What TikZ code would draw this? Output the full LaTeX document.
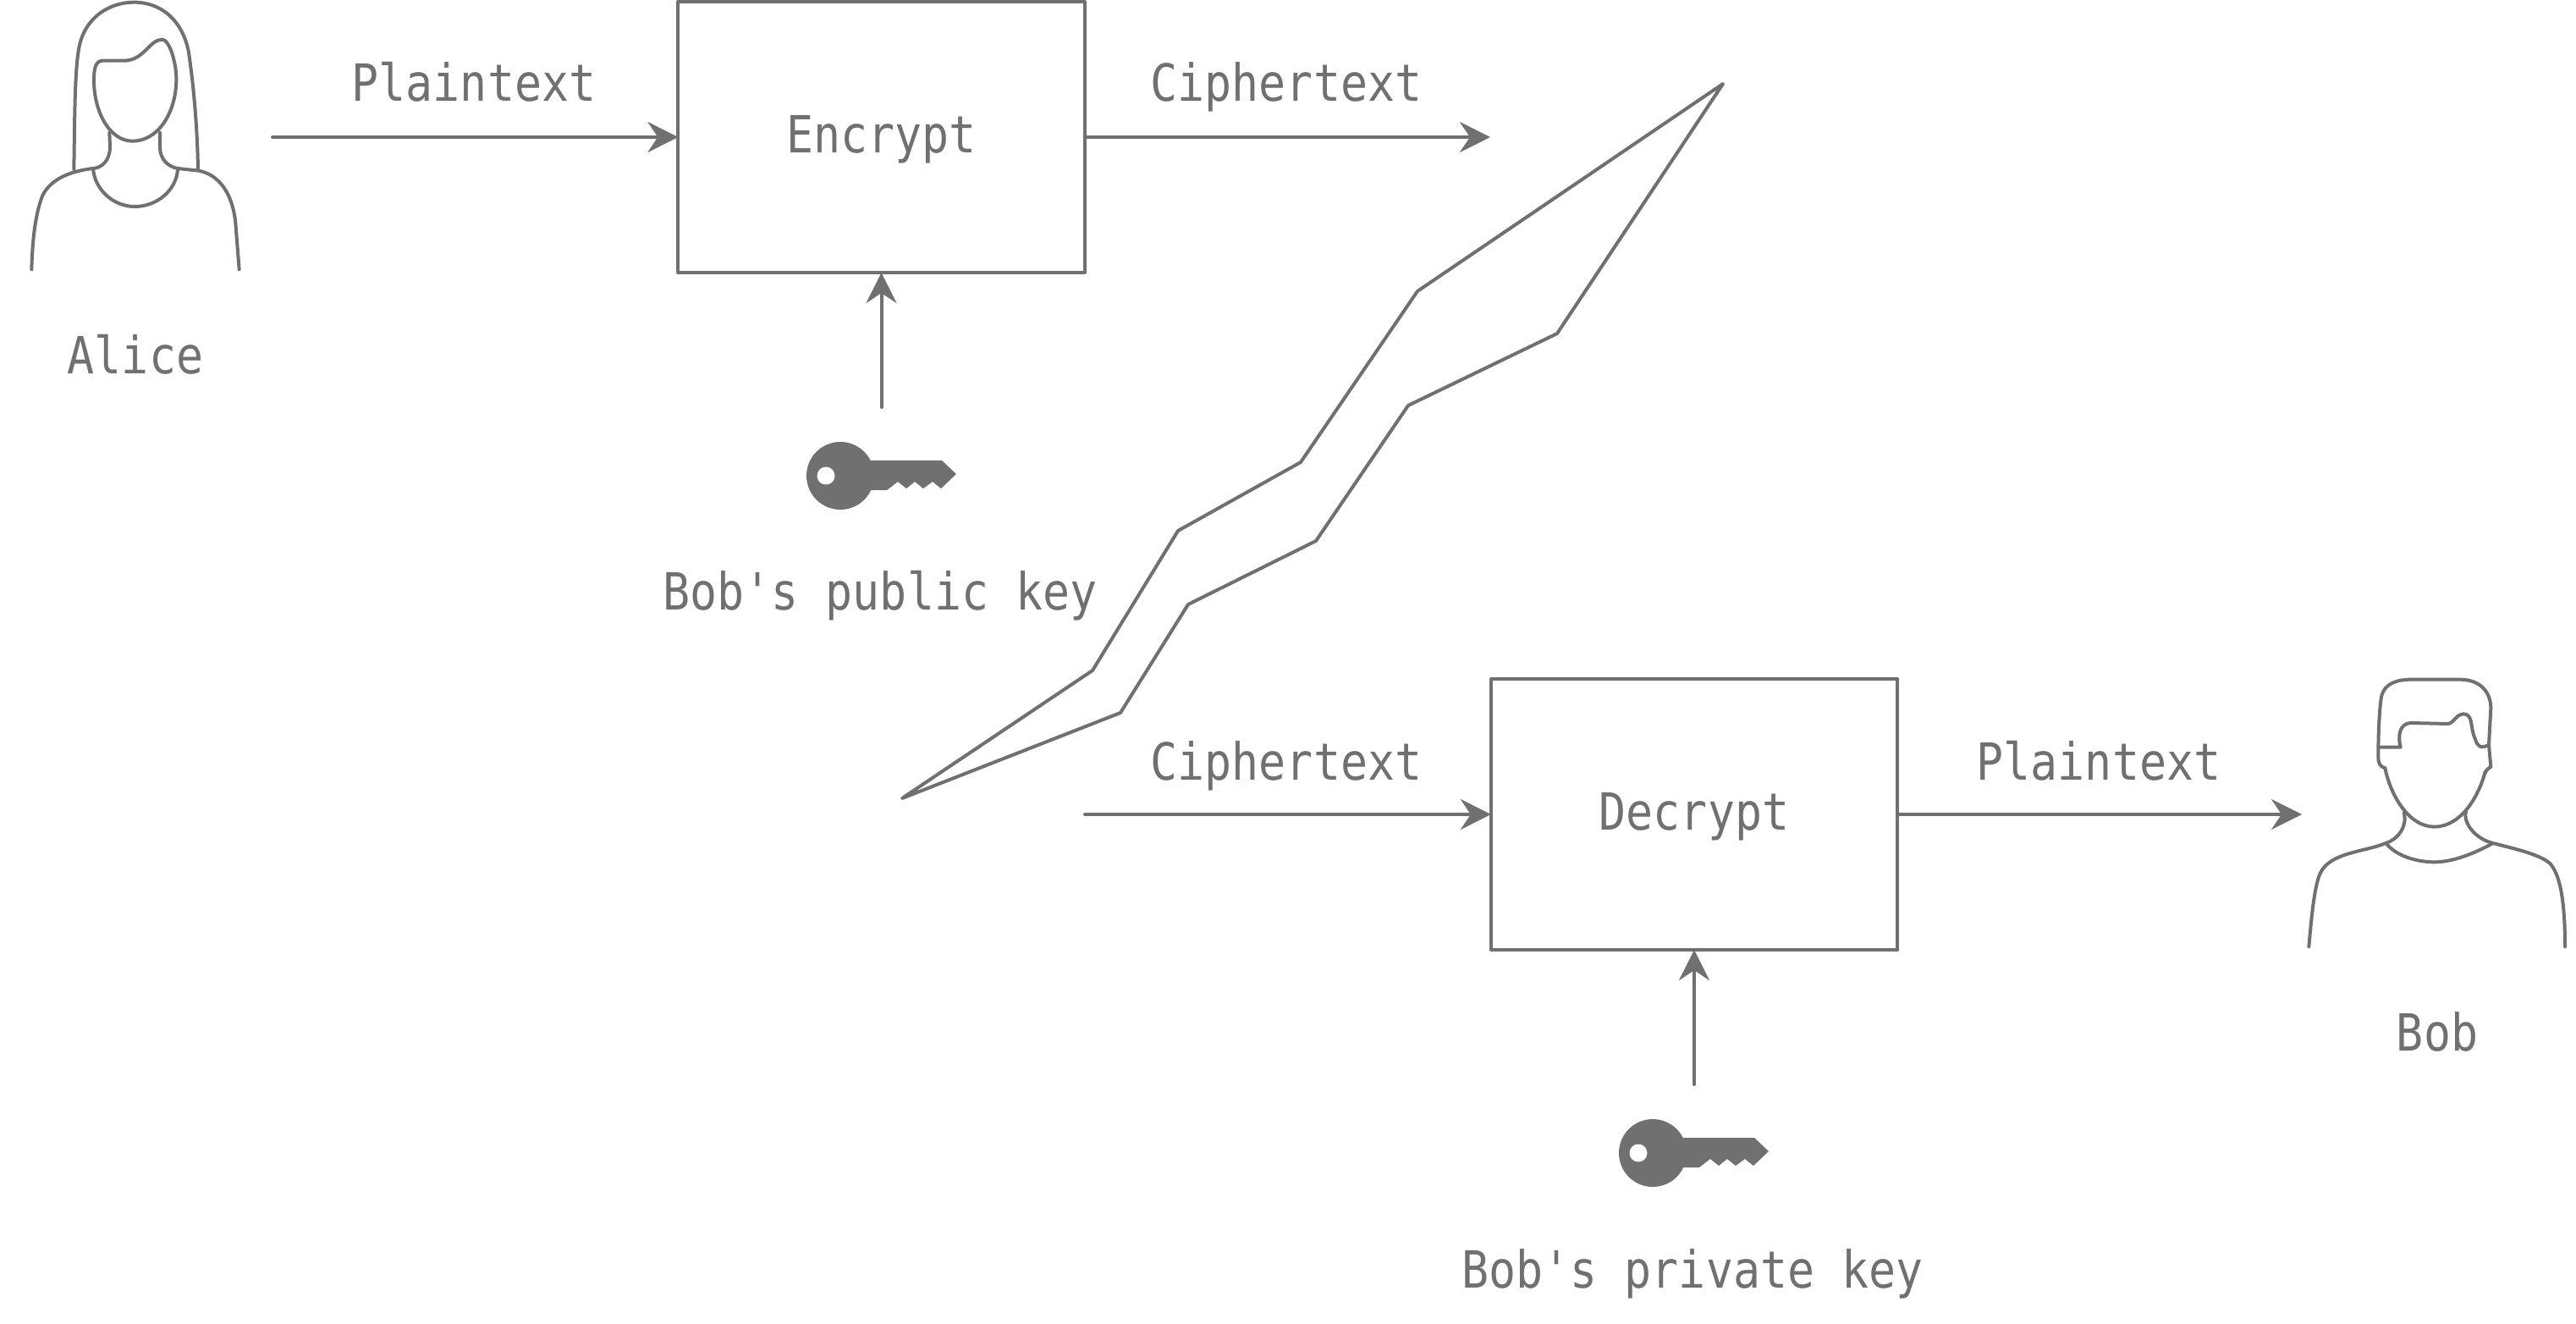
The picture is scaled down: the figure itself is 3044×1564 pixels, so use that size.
\documentclass[tikz,border=0pt]{standalone}
\usepackage{fontspec}
\usepackage{tikz}
\usetikzlibrary{arrows.meta, positioning}
\setmonofont[FakeStretch=0.88]{DejaVu Sans Mono}
\definecolor{inkgray}{HTML}{707070}

\begin{document}
\begin{tikzpicture}[
  x=0.01cm, y=-0.01cm,
  line/.style={draw=inkgray, line width=0.04cm, line join=round, line cap=round},
  box/.style={line, minimum width=4.8cm, minimum height=3.2cm, inner sep=0pt, outer sep=0pt,
              text height=0.5cm, text depth=0.14cm, text=inkgray,
              font=\ttfamily\fontsize{17.2}{20}\selectfont},
  lbl/.style={anchor=base, text=inkgray, inner sep=0pt, font=\ttfamily\fontsize{17.2}{20}\selectfont},
  arr/.style={line, -{Stealth[length=0.36cm, width=0.36cm, inset=0.12cm]}},
  keyicon/.pic={
    \fill[inkgray] (0,0) circle[radius=40];
    \fill[inkgray, line join=round] (30,-18) -- (120,-18) -- (137,-2) -- (119,15) -- (109,7) -- (98,15) -- (88,7)
      -- (78,15) -- (68,7) -- (55,17) -- (30,17) -- cycle;
    \fill[white] (-17,0) circle[radius=10.5];
  }
]
  \useasboundingbox (0,0) rectangle (3044,1564);

  \node[box] (encrypt) at (1041.5,162) {Encrypt};
  \node[box] (decrypt) at (2002,962) {Decrypt};

  \coordinate (plainin)   at (322,162);
  \coordinate (cipherout) at (1761,162);
  \coordinate (pubkey)    at (1041.5,481);
  \coordinate (cipherin)  at (1282,962);
  \coordinate (plainout)  at (2720,962);
  \coordinate (privkey)   at (2002,1281);

  \draw[arr] (plainin) -- (encrypt.west);
  \draw[arr] (encrypt.east) -- (cipherout);
  \draw[arr] (pubkey) -- (encrypt.south);
  \draw[arr] (cipherin) -- (decrypt.west);
  \draw[arr] (decrypt.east) -- (plainout);
  \draw[arr] (privkey) -- (decrypt.south);

  \node[lbl] (plainlbl)   at (560,120)   {Plaintext};
  \node[lbl] (cipherlbl)  at (1520,120)  {Ciphertext};
  \node[lbl] (alicelbl)   at (160,442)   {Alice};
  \node[lbl] (publbl)     at (1040,721)  {Bob's public key};
  \node[lbl] (cipherlbl2) at (1520,921)  {Ciphertext};
  \node[lbl] (plainlbl2)  at (2480,921)  {Plaintext};
  \node[lbl] (boblbl)     at (2880,1241) {Bob};
  \node[lbl] (privlbl)    at (2000,1521) {Bob's private key};

  \pic at (993,562) {keyicon};
  \pic at (1953,1362) {keyicon};

  \draw[line] (1066,943) -- (1291,792) -- (1392,627) -- (1537,546) -- (1675,344) -- (2036,99)
    -- (1840,394) -- (1664,479) -- (1555,639) -- (1404,714) -- (1324,842) -- cycle;

  \begin{scope}[scale=1/3]
    \draw[line] (262,600) .. controls (265,400) and (265,250) .. (280,170)
      .. controls (300,60) and (390,8) .. (475,8)
      .. controls (570,8) and (645,70) .. (668,180)
      .. controls (685,290) and (700,450) .. (702,600);
    \draw[line] (365,215) -- (440,215) .. controls (510,215) and (530,140) .. (575,140)
      .. controls (600,140) and (625,220) .. (625,280)
      .. controls (625,400) and (560,500) .. (470,500)
      .. controls (390,500) and (335,400) .. (333,290)
      .. controls (332,240) and (340,215) .. (365,215) -- cycle;
    \draw[line] (388,470) -- (390,520) .. controls (390,570) and (360,595) .. (330,597)
      .. controls (260,605) and (180,630) .. (150,695)
      .. controls (125,760) and (115,850) .. (112,955);
    \draw[line] (567,470) -- (567,520) .. controls (567,565) and (595,590) .. (630,597)
      -- (705,605) .. controls (780,620) and (825,690) .. (835,790) -- (848,955);
    \draw[line] (330,597) .. controls (335,670) and (400,732) .. (478,732)
      .. controls (560,732) and (628,670) .. (630,597);
  \end{scope}

  \begin{scope}[shift={(2700,780)}, scale=1/3]
    \draw[line] (335,308) -- (410,308) .. controls (400,270) and (405,225) .. (445,222)
      -- (580,225) .. controls (600,220) and (610,190) .. (632,190)
      .. controls (670,190) and (655,240) .. (675,280)
      .. controls (685,310) and (695,312) .. (723,300);
    \draw[line] (355,382) .. controls (335,375) and (331,365) .. (331,340)
      .. controls (331,260) and (335,170) .. (342,130)
      .. controls (352,80) and (400,68) .. (450,68) -- (620,68)
      .. controls (690,68) and (730,110) .. (730,170) -- (723,300) -- (730,378)
      .. controls (715,385) and (712,395) .. (710,400);
    \draw[line] (355,382) .. controls (375,480) and (440,590) .. (530,590)
      .. controls (620,590) and (685,490) .. (710,395);
    \draw[line] (422,540) .. controls (435,590) and (400,635) .. (358,648)
      .. controls (280,680) and (160,680) .. (125,755)
      .. controls (105,800) and (95,900) .. (85,1015);
    \draw[line] (358,648) .. controls (400,700) and (480,715) .. (530,715)
      .. controls (600,715) and (680,680) .. (738,648);
    \draw[line] (642,535) .. controls (630,580) and (680,635) .. (738,648)
      .. controls (800,665) and (900,685) .. (940,720)
      .. controls (985,770) and (993,900) .. (993,1015);
  \end{scope}
\end{tikzpicture}
\end{document}
